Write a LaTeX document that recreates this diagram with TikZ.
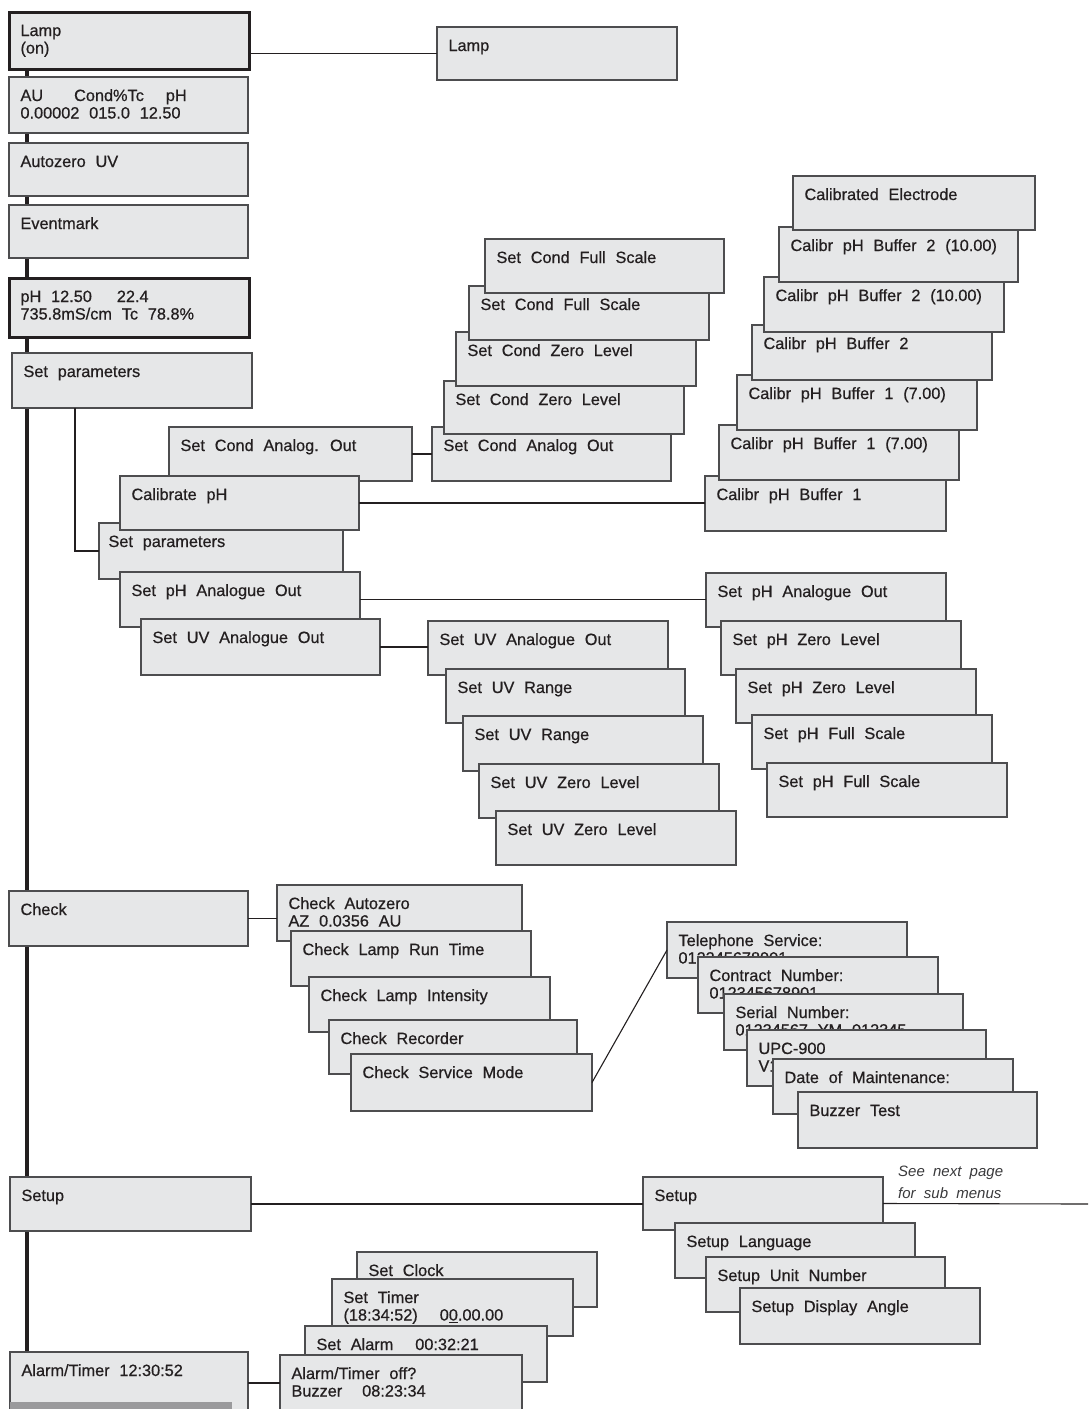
\documentclass[tikz,border=0pt]{standalone}
\usepackage{fontspec}
\setmainfont{Liberation Sans}
\newfontfamily\boxfont{Liberation Sans}[FakeBold=0.6]
\definecolor{boxfill}{HTML}{E6E7E8}
\definecolor{boxline}{HTML}{4D4D4F}
\definecolor{darkline}{HTML}{231F20}
\definecolor{txtcol}{HTML}{231F20}
\definecolor{notecol}{HTML}{3A3A3C}
\definecolor{barcol}{HTML}{9A9A9C}
\newcommand\mainf{\boxfont\fontsize{16.3}{17.5}\selectfont\spaceskip=0.6em\relax}
\newcommand\notef{\fontsize{15}{22.5}\selectfont\itshape\spaceskip=0.55em\relax}
% \bx[style]{name}{x,y}{w}{h}{text}
\newcommand\bx[6][]{%
  \node[boxst,#1,anchor=north west,minimum width=#4,minimum height=#5] (#2) at (#3) {};%
  \node[txtst,anchor=base west] (#2-t) at ([xshift=11.5pt,yshift=-24pt]#2.north west) {\parbox[t]{232pt}{#6}};%
}
\begin{document}
\begin{tikzpicture}[x=1pt,y=-1pt,
  boxst/.style={draw=boxline,fill=boxfill,line width=1.3pt,inner sep=0pt,outer sep=0pt},
  thickbox/.style={draw=darkline,line width=3pt},
  txtst/.style={inner sep=0pt,outer sep=0pt,text=txtcol,font=\mainf},
  conn/.style={draw=darkline,line width=1.1pt},
  trunk/.style={draw=darkline,line width=4.5pt}]
\useasboundingbox (0,0) rectangle (1088,1409);
\fill[white] (0,0) rectangle (1088,1409);
\clip (0,0) rectangle (1088,1409);

% trunk
\coordinate (vtop) at (27,69);
\coordinate (vbot) at (27,1352);
\draw[trunk] (vtop) -- (vbot);

% main column
\bx[thickbox]{lamp}{9,12}{240}{57}{Lamp\\(on)}
\bx{au}{9,77}{239}{56}{AU\hspace{31pt}Cond\%Tc\hspace{22pt}pH\\0.00002 015.0 12.50}
\bx{az}{9,143}{239}{53}{Autozero UV}
\bx{ev}{9,205}{239}{53}{Eventmark}
\bx[thickbox]{ph}{9,278}{240}{59}{pH 12.50\hspace{25pt}22.4\\735.8mS/cm Tc 78.8\%}
\bx{sp}{12,353}{240}{55}{Set parameters}
\bx{lamptwo}{437,27}{240}{53}{Lamp}

% set parameters sub menu
\bx{scao}{169,427}{243}{54}{Set Cond Analog. Out}
\bx{sptwo}{99,523}{244}{56}{\hspace{-2pt}Set parameters}
\bx{calph}{120,476}{239}{54}{Calibrate pH}
\bx{spha}{120,572}{240}{55}{Set pH Analogue Out}
\bx{suva}{141,619}{239}{56}{Set UV Analogue Out}

% cond stack
\bx{cao}{432,427}{239}{54}{Set Cond Analog Out}
\bx{czlb}{444,381}{240}{53}{Set Cond Zero Level}
\bx{czl}{456,332}{240}{54}{Set Cond Zero Level}
\bx{cfsb}{469,286}{240}{54}{Set Cond Full Scale}
\bx{cfs}{485,239}{239}{54}{Set Cond Full Scale}

% calibr stack
\bx{cba}{705,476}{241}{55}{Calibr pH Buffer 1}
\bx{cbbb}{719,425}{240}{55}{Calibr pH Buffer 1 (7.00)}
\bx{cbb}{737,375}{240}{55}{Calibr pH Buffer 1 (7.00)}
\bx{cbc}{752,325}{240}{55}{Calibr pH Buffer 2}
\bx{cbdd}{764,277}{240}{55}{Calibr pH Buffer 2 (10.00)}
\bx{cbd}{779,227}{239}{55}{Calibr pH Buffer 2 (10.00)}
\bx{ce}{793,176}{242}{54}{Calibrated Electrode}

% pH analogue stack
\bx{pha}{706,573}{240}{54}{Set pH Analogue Out}
\bx{pzl}{721,621}{240}{54}{Set pH Zero Level}
\bx{pzlb}{736,669}{240}{54}{Set pH Zero Level}
\bx{pfs}{752,715}{240}{54}{Set pH Full Scale}
\bx{pfsb}{767,763}{240}{54}{Set pH Full Scale}

% UV stack
\bx{uva}{428,621}{240}{54}{Set UV Analogue Out}
\bx{uvr}{446,669}{239}{54}{Set UV Range}
\bx{uvrb}{463,716}{240}{55}{Set UV Range}
\bx{uvz}{479,764}{240}{54}{Set UV Zero Level}
\bx{uvzb}{496,811}{240}{54}{Set UV Zero Level}

% check
\bx{chk}{9,891}{239}{55}{Check}
\bx{caz}{277,885}{245}{56}{Check Autozero\\AZ 0.0356 AU}
\bx{clr}{291,931}{240}{55}{Check Lamp Run Time}
\bx{cli}{309,977}{241}{55}{Check Lamp Intensity}
\bx{crec}{329,1020}{248}{54}{Check Recorder}
\bx{csm}{351,1054}{241}{57}{Check Service Mode}

% service stack
\bx{ts}{667,922}{240}{56}{Telephone Service:\\012345678901}
\bx{cn}{698,957}{240}{56}{Contract Number:\\012345678901}
\bx{sn}{724,994}{239}{56}{Serial Number:\\01234567 YM 012345}
\bx{upc}{747,1030}{239}{56}{UPC-900\\V1.0}
\bx{dom}{773,1059}{240}{55}{Date of Maintenance:}
\bx{bz}{798,1092}{239}{56}{Buzzer Test}

% setup
\bx{su}{10,1177}{241}{54}{Setup}
\bx{sutwo}{643,1177}{240}{53}{Setup}
\bx{sl}{675,1223}{240}{55}{Setup Language}
\bx{sun}{706,1257}{239}{55}{Setup Unit Number}
\bx{sda}{740,1288}{240}{56}{Setup Display Angle}
\node[inner sep=0pt,anchor=base west,text=notecol,font=\notef] (note) at (898,1176) {\parbox[t]{180pt}{See next page\\for sub menus}};

% alarm / timer
\bx{sc}{357,1252}{240}{55}{Set Clock}
\bx{st}{332,1279}{241}{57}{Set Timer\\(18:34:52)\hspace{22pt}0\underline{0}.00.00}
\bx{sa}{305,1326}{242}{56}{Set Alarm\hspace{22pt}00:32:21}
\bx{at}{10,1352}{238}{70}{Alarm/Timer 12:30:52}
\bx{ato}{280,1355}{242}{70}{Alarm/Timer off?\\Buzzer\hspace{20pt}08:23:34}
\fill[barcol] (10,1402) rectangle (232,1409);

% connectors
\draw[conn] (lamptwo.west -| lamp.east) -- (lamptwo.west);
\coordinate (spx) at (75,408);
\draw[conn] (spx) |- (sptwo.west);
\draw[conn] (scao.east) -- (cao.west);
\draw[conn] (calph.east) -- (calph.east -| cba.west);
\draw[conn] (spha.east) -- (spha.east -| pha.west);
\draw[conn] (suva.east) -- (suva.east -| uva.west);
\draw[conn] (chk.east) -- (chk.east -| caz.west);
\draw[conn] (csm.east) -- (ts.west);
\draw[conn] (su.east) -- (su.east -| sutwo.west);
\coordinate (suend) at (1088,1204);
\draw[conn] (sutwo.east) -- (suend);
\coordinate (atmid) at (248,1383);
\draw[conn] (atmid) -- (atmid -| ato.west);
\end{tikzpicture}
\end{document}
